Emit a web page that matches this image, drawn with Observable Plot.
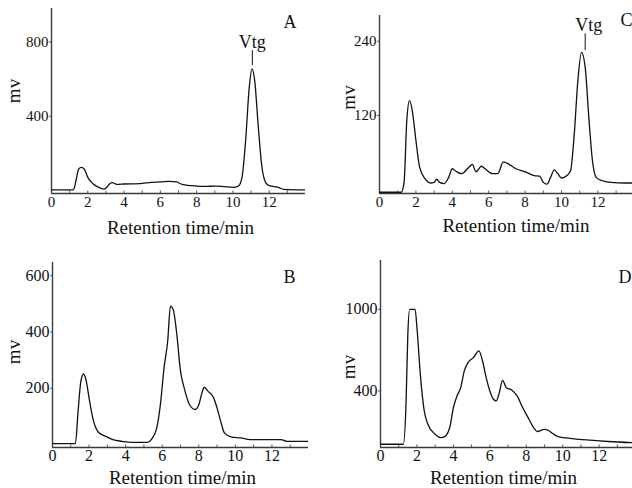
<!DOCTYPE html>
<html><head><meta charset="utf-8">
<script src="https://cdn.jsdelivr.net/npm/d3@7"></script>
<script src="https://cdn.jsdelivr.net/npm/@observablehq/plot@0.6"></script>
<style>
body{margin:0;background:#fff;}
#wrap{position:relative;width:632px;height:488px;overflow:hidden;background:#fff;font-family:"Liberation Serif",serif;}
.panel{position:absolute;}
.panel svg{overflow:visible;font-family:"Liberation Serif",serif !important;}
.panel svg text{font-family:"Liberation Serif",serif !important;}
</style></head><body><div id="wrap"></div>
<script>
// Panel A (top-left)
const aTime = [0,1.2,1.35,1.5,1.65,1.8,2.0,2.3,2.6,2.9,3.0,3.2,3.35,3.6,4.0,5.0,5.5,6.0,6.5,6.9,7.2,8.0,8.5,9.0,9.5,10.0,10.3,10.5,10.7,10.9,11.05,11.2,11.4,11.6,11.8,12.0,12.5,12.8,14];
const aMv   = [4,4,54,117,125,117,72,36,18,9,14,36,43,34,36,40,45,47,50,47,34,25,23,25,22,18,25,72,270,556,655,592,341,126,45,27,18,7,4];
// Panel C (top-right)
const cTime = [0,1.2,1.35,1.5,1.65,1.8,2.0,2.2,2.5,2.8,3.0,3.15,3.3,3.55,3.8,4.0,4.2,4.5,5.0,5.1,5.3,5.6,5.8,6.2,6.5,6.8,7.0,7.5,8.0,8.5,8.8,9.0,9.2,9.4,9.6,9.8,10.0,10.3,10.5,10.7,10.9,11.1,11.3,11.5,11.7,11.9,12.2,12.7,13.5,14];
const cMv   = [-4,-4,12,112,144,128,80,37,18,11,12,17,12,10,20,34,30,26,39,41,29,38,34,26,26,45,43,34,29,23,22,12,9,20,32,26,19,23,31,90,177,222,198,117,47,20,15,12,11,11];
// Panel B (bottom-left)
const bTime = [0,1.25,1.4,1.55,1.7,1.85,2.0,2.2,2.5,2.9,3.3,3.8,4.3,5.2,5.4,5.7,5.9,6.1,6.3,6.45,6.6,6.8,7.0,7.2,7.5,7.8,8.0,8.2,8.3,8.5,8.8,9.0,9.2,9.4,9.8,10.3,10.8,12.5,12.8,14];
const bMv   = [4,4,119,225,251,225,166,95,45,30,18,12,8,8,18,59,142,273,368,492,480,391,261,202,142,125,142,190,204,190,168,130,83,42,27,24,18,18,12,12];
// Panel D (bottom-right)
const dTime = [0,1.25,1.4,1.5,1.6,1.7,1.9,2.0,2.2,2.4,2.6,3.0,3.3,3.5,3.8,4.0,4.2,4.4,4.6,4.8,5.1,5.4,5.6,5.8,6.0,6.2,6.35,6.5,6.7,6.9,7.2,7.5,7.8,8.1,8.4,8.6,9.0,9.2,9.5,9.8,10.5,11.5,12.5,14];
const dMv   = [8,8,302,816,1000,1000,1000,865,498,253,155,82,57,62,131,278,363,424,547,608,645,694,620,498,400,339,327,376,478,424,407,363,278,204,131,101,118,111,82,62,50,38,28,18];

// Tick labels
const xTicks = [0,2,4,6,8,10,12];
const xMinorTicks = [1,3,5,7,9,11,13];
const aYTicks = [400,800];
const cYTicks = [120,240];
const bYTicks = [200,400,600];
const dYTicks = [400,1000];

// Vtg annotations
const vtgA = [{time:11.07, label:"Vtg", textMv:797, lineTop:754, lineBottom:673}];
const vtgC = [{time:11.3, textTime:11.5, label:"Vtg", textMv:265, lineTop:252, lineBottom:225}];

const xLabel = "Retention time/min";
const yLabel = "mv";

const panels = [
  {name:"A", time:aTime, mv:aMv, left:0, top:0, xDomain:[0,14], yDomain:[-15,980], yTicks:aYTicks,
   m:{l:51,r:11,t:8,b:51}, tickFs:15, letter:{dx:-22,dy:14}, ylab:{dx:-38,dy:-10}, xlab:{dx:2,dy:34}, vtg:vtgA},
  {name:"C", time:cTime, mv:cMv, left:316, top:0, xDomain:[0,13.9], yDomain:[-6,281.5], yTicks:cYTicks,
   m:{l:63,r:0,t:15,b:51}, tickFs:15, letter:{dx:-12,dy:5}, ylab:{dx:-31,dy:-7}, xlab:{dx:10,dy:32}, vtg:vtgC},
  {name:"B", time:bTime, mv:bMv, left:0, top:244, xDomain:[0,14], yDomain:[-10,647], yTicks:bYTicks,
   m:{l:52,r:8,t:18,b:41}, tickFs:16, letter:{dx:-25,dy:15}, ylab:{dx:-39,dy:-3}, xlab:{dx:2,dy:30}, vtg:null},
  {name:"D", time:dTime, mv:dMv, left:316, top:244, xDomain:[0,13.83], yDomain:[-16,1359], yTicks:dYTicks,
   m:{l:64,r:0,t:16,b:41}, tickFs:16, letter:{dx:-14,dy:17}, ylab:{dx:-32,dy:13}, xlab:{dx:-3,dy:30}, vtg:null}
];

const FONT = "Liberation Serif";
const wrap = document.getElementById("wrap");

for (const p of panels) {
  const idx = d3.range(p.time.length);
  const marks = [
    Plot.ruleX([0], {stroke:"#3a3a3a", strokeWidth:1.4}),
    Plot.ruleY([p.yDomain[0]], {stroke:"#3a3a3a", strokeWidth:1.4}),
    Plot.axisX({ticks: xMinorTicks, tickSize: -2.5, text: null, label: null, stroke:"#555"}),
    Plot.axisX({ticks: xTicks, tickSize: -2.5, tickPadding: 5, label: null, fontSize: p.tickFs, fontFamily: FONT, stroke:"#555"}),
    Plot.axisY({ticks: p.yTicks, tickSize: 2, tickPadding: 1, label: null, fontSize: p.tickFs, fontFamily: FONT, stroke:"#555", tickFormat: d3.format("d")}),
    Plot.line(idx, {x: i => p.time[i], y: i => p.mv[i], curve: "monotone-x", stroke: "#111", strokeWidth: 1.3, clip: true}),
    Plot.text([p.name], {text: d => d, frameAnchor: "top-right", textAnchor: "start", lineAnchor: "middle",
      dx: p.letter.dx, dy: p.letter.dy, fontSize: 18, fontFamily: FONT}),
    Plot.text([yLabel], {text: d => d, frameAnchor: "left", rotate: -90, textAnchor: "middle", lineAnchor: "middle",
      dx: p.ylab.dx, dy: p.ylab.dy, fontSize: 19, fontFamily: FONT}),
    Plot.text([xLabel], {text: d => d, frameAnchor: "bottom", textAnchor: "middle", lineAnchor: "middle",
      dx: p.xlab.dx, dy: p.xlab.dy, fontSize: 19, fontFamily: FONT})
  ];
  if (p.vtg) {
    marks.push(Plot.ruleX(p.vtg, {x: "time", y1: "lineBottom", y2: "lineTop", stroke: "#111", strokeWidth: 1}));
    marks.push(Plot.text(p.vtg, {x: d => d.textTime ?? d.time, y: "textMv", text: "label", fontSize: 18, fontFamily: FONT, lineAnchor: "middle"}));
  }
  const chart = Plot.plot({
    width: 316, height: 244,
    marginLeft: p.m.l, marginRight: p.m.r, marginTop: p.m.t, marginBottom: p.m.b,
    style: {fontFamily: FONT, background: "transparent", color: "#111", overflow: "visible"},
    x: {domain: p.xDomain, axis: null},
    y: {domain: p.yDomain, axis: null},
    marks
  });
  const div = document.createElement("div");
  div.className = "panel";
  div.style.left = p.left + "px";
  div.style.top = p.top + "px";
  div.appendChild(chart);
  wrap.appendChild(div);
}
</script>
</body></html>
